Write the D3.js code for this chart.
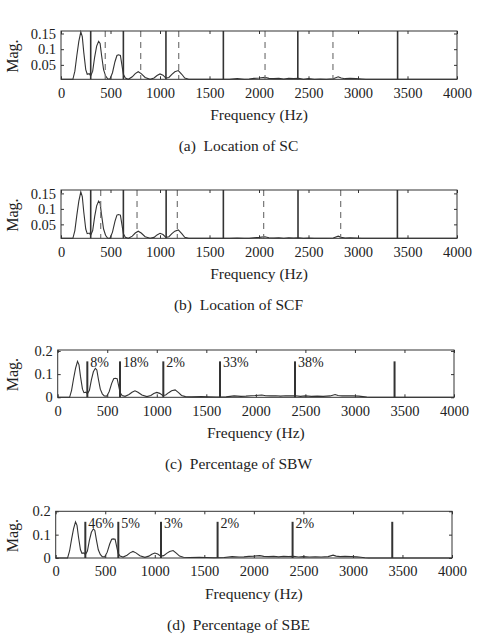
<!DOCTYPE html>
<html>
<head>
<meta charset="utf-8">
<script src="https://cdnjs.cloudflare.com/ajax/libs/d3/7.8.5/d3.min.js"></script>
<style>
  body { margin: 0; background: #fff; }
  text { font-family: "Liberation Serif", "DejaVu Serif", serif; fill: #222; }
  .caption { white-space: pre; }
</style>
</head>
<body>
<div id="container"></div>
<script>
'use strict';

const w = 477;
const h = 637;

// spectrum (Hz, magnitude)
const freq = [0, 120, 140, 160, 180, 200, 215, 230, 250, 265, 285, 300, 320, 340, 360, 380, 395, 410, 430, 450,
              470, 495, 520, 545, 565, 580, 600, 615, 630, 650, 680, 720, 750, 780, 810, 850, 900, 940, 970, 1000,
              1030, 1060, 1090, 1120, 1150, 1185, 1220, 1250, 1290, 1350, 1450, 1520, 1600, 1700, 1780, 1850, 1900,
              1950, 2000, 2060, 2100, 2150, 2200, 2250, 2300, 2350, 2400, 2450, 2500, 2560, 2620, 2680, 2750, 2800,
              2830, 2870, 2920, 2980, 3040, 3080, 3120, 3160, 4000];
const mag = [0, 0, 0.03, 0.08, 0.125, 0.155, 0.14, 0.09, 0.035, 0.02, 0.022, 0.015, 0.03, 0.075, 0.11, 0.125, 0.118, 0.08, 0.035, 0.015,
             0.006, 0.005, 0.025, 0.06, 0.08, 0.082, 0.08, 0.05, 0.02, 0.008, 0.004, 0.012, 0.022, 0.028, 0.022, 0.01, 0.003, 0.008, 0.016, 0.021,
             0.017, 0.008, 0.01, 0.02, 0.028, 0.032, 0.02, 0.008, 0.003, 0.002, 0.003, 0.002, 0.001, 0.002, 0.006, 0.004, 0.005,
             0.007, 0.008, 0.010, 0.007, 0.006, 0.007, 0.005, 0.007, 0.006, 0.007, 0.004, 0.006, 0.004, 0.005, 0.004, 0.006, 0.012,
             0.008, 0.006, 0.007, 0.006, 0.005, 0.003, 0.001, 0, 0];

const xTicks = [0, 500, 1000, 1500, 2000, 2500, 3000, 3500, 4000];
const yTicksSC = [0.05, 0.1, 0.15];
const yTicksSB = [0, 0.1, 0.2];

const solidSC = [300, 630, 1060, 1640, 2392, 3400];
const dashedSC = [447, 805, 1189, 2061, 2747];
const solidSCF = [300, 630, 1062, 1640, 2394, 3398];
const dashedSCF = [401, 768, 1175, 2047, 2825];

const barsSBW = [299, 629, 1066, 1638, 2395, 3400];
const labelsSBW = ['8%', '18%', '2%', '33%', '38%'];
const barsSBE = [299, 632, 1063, 1634, 2391, 3397];
const labelsSBE = ['46%', '5%', '3%', '2%', '2%'];
const barValue = 0.155;

const captions = ['(a)  Location of SC', '(b)  Location of SCF',
                  '(c)  Percentage of SBW', '(d)  Percentage of SBE'];

const spectrum = freq.map((f, i) => [f, mag[i]]);

const svg = d3.select('#container')
                .append('svg')
                .attr('width', w)
                .attr('height', h);

function drawPanel(p) {
    const x = d3.scaleLinear().domain([0, 4000]).range([p.left, p.right]);
    const y = d3.scaleLinear().domain(p.yDomain).range([p.bottom, p.top]).clamp(true);
    const g = svg.append('g');

    // spectrum curve
    g.append('path')
        .datum(spectrum)
        .attr('fill', 'none')
        .attr('stroke', '#333')
        .attr('stroke-width', 1.1)
        .attr('d', d3.line().x((d) => x(d[0])).y((d) => y(d[1])));

    if (p.dashed) {
        g.selectAll('.dash')
            .data(p.dashed)
            .enter()
            .append('line')
            .attr('x1', (d) => x(d)).attr('x2', (d) => x(d))
            .attr('y1', p.top).attr('y2', p.bottom)
            .attr('stroke', '#777')
            .attr('stroke-width', 1.2)
            .attr('stroke-dasharray', '6,5');
    }
    if (p.solid) {
        g.selectAll('.solid')
            .data(p.solid)
            .enter()
            .append('line')
            .attr('x1', (d) => x(d)).attr('x2', (d) => x(d))
            .attr('y1', p.top).attr('y2', p.bottom)
            .attr('stroke', '#333')
            .attr('stroke-width', 1.6);
    }
    if (p.bars) {
        g.selectAll('.bar')
            .data(p.bars)
            .enter()
            .append('line')
            .attr('x1', (d) => x(d)).attr('x2', (d) => x(d))
            .attr('y1', y(barValue)).attr('y2', y(0))
            .attr('stroke', '#333')
            .attr('stroke-width', 2);
        g.selectAll('.pct')
            .data(p.labels)
            .enter()
            .append('text')
            .attr('x', (d, i) => x(p.bars[i]) + 3)
            .attr('y', p.top + 17)
            .attr('font-size', 14)
            .text((d) => d);
    }

    // axes, ticks pointing inward on all sides
    g.append('g')
        .attr('transform', 'translate(0,' + p.bottom + ')')
        .call(d3.axisBottom(x).tickValues(xTicks).tickSize(-3).tickPadding(8).tickFormat(d3.format('d')));
    g.append('g')
        .attr('transform', 'translate(0,' + p.top + ')')
        .call(d3.axisTop(x).tickValues(xTicks).tickSize(-3).tickFormat(''));
    g.append('g')
        .attr('transform', 'translate(' + p.left + ',0)')
        .call(d3.axisLeft(y).tickValues(p.yTicks).tickSize(-3).tickPadding(5).tickFormat((d) => String(d)));
    g.append('g')
        .attr('transform', 'translate(' + p.right + ',0)')
        .call(d3.axisRight(y).tickValues(p.yTicks).tickSize(-3).tickFormat(''));

    g.selectAll('.domain').remove();
    g.selectAll('.tick line').attr('stroke', '#333');
    g.selectAll('.tick text').attr('font-family', null).attr('font-size', 14.5).attr('fill', '#222');

    g.append('rect')
        .attr('x', p.left).attr('y', p.top)
        .attr('width', p.right - p.left).attr('height', p.bottom - p.top)
        .attr('fill', 'none')
        .attr('stroke', '#333')
        .attr('stroke-width', 1);

    g.append('text')
        .attr('transform', 'translate(18,' + ((p.top + p.bottom) / 2 + 1) + ') rotate(-90)')
        .attr('text-anchor', 'middle')
        .attr('font-size', 16)
        .text('Mag.');

    g.append('text')
        .attr('x', (p.left + p.right) / 2)
        .attr('y', p.bottom + 41)
        .attr('text-anchor', 'middle')
        .attr('font-size', 15.5)
        .text('Frequency (Hz)');

    g.append('text')
        .attr('class', 'caption')
        .attr('x', w / 2)
        .attr('y', p.bottom + 72)
        .attr('text-anchor', 'middle')
        .attr('font-size', 15.5)
        .text(p.caption);
}

drawPanel({ left: 61, right: 457, top: 31, bottom: 79.3, yDomain: [0.004, 0.158], yTicks: yTicksSC,
            solid: solidSC, dashed: dashedSC, caption: captions[0] });
drawPanel({ left: 61, right: 457, top: 190, bottom: 238.3, yDomain: [0.005, 0.161], yTicks: yTicksSC,
            solid: solidSCF, dashed: dashedSCF, caption: captions[1] });
drawPanel({ left: 57.7, right: 454, top: 350, bottom: 397.3, yDomain: [0, 0.204], yTicks: yTicksSB,
            bars: barsSBW, labels: labelsSBW, caption: captions[2] });
drawPanel({ left: 55.7, right: 452, top: 511.3, bottom: 558, yDomain: [0, 0.2], yTicks: yTicksSB,
            bars: barsSBE, labels: labelsSBE, caption: captions[3] });
</script>
</body>
</html>
